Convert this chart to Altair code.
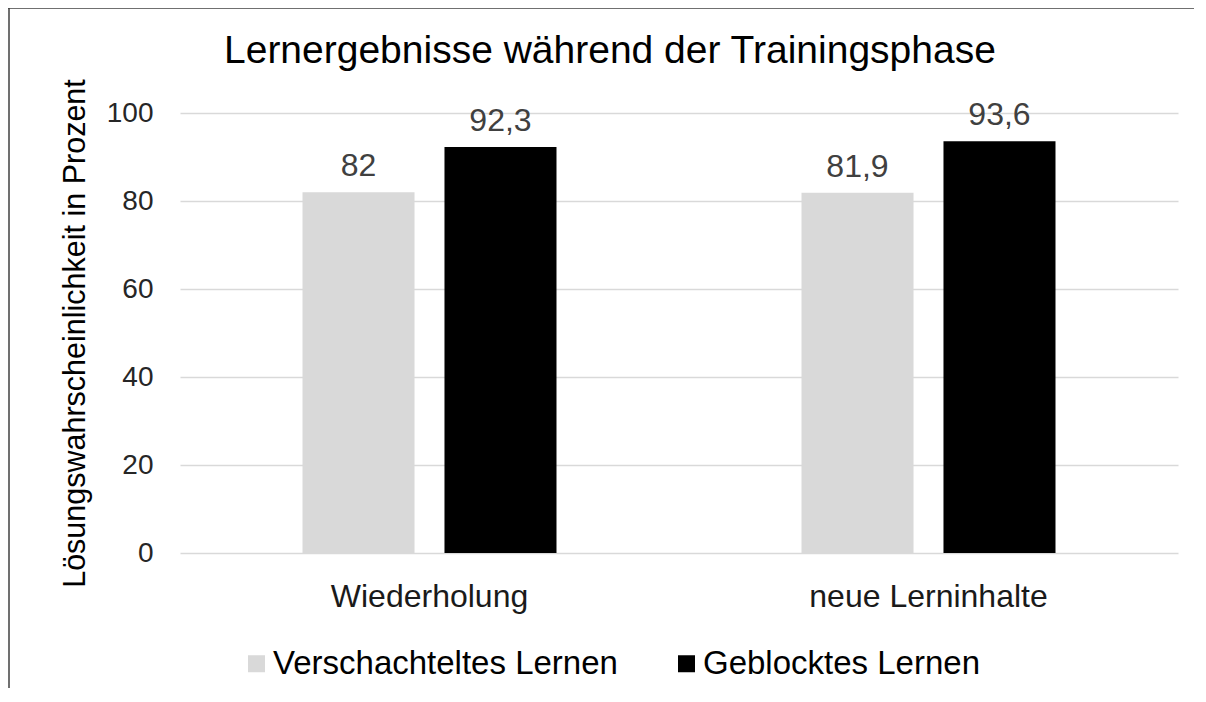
import altair as alt
import pandas as pd

title_text = "Lernergebnisse während der Trainingsphase"
categories = ["Wiederholung", "neue Lerninhalte"]
series = ["Verschachteltes Lernen", "Geblocktes Lernen"]
verschachtelt = [82, 81.9]
geblockt = [92.3, 93.6]
colors = ["#d9d9d9", "#000000"]
y_ticks = [0, 20, 40, 60, 80, 100]

rows = []
for i, cat in enumerate(categories):
    for s, vals in zip(series, [verschachtelt, geblockt]):
        v = vals[i]
        rows.append({"Kategorie": cat, "Reihe": s, "Wert": v,
                     "Label": f"{v:g}".replace(".", ",")})
df = pd.DataFrame(rows)
one = pd.DataFrame({"t": [title_text]})

FONT = "Liberation Sans"

x = alt.X("Kategorie:N", sort=categories,
          scale=alt.Scale(paddingInner=0.491, paddingOuter=0.2455),
          axis=alt.Axis(title=None, labelAngle=0, labelFontSize=32, labelColor="#1a1a1a",
                        labelPadding=28, labelLimit=500, ticks=False, tickSize=0,
                        domain=False, grid=False, labelFont=FONT))
xo = alt.XOffset("Reihe:N", sort=series,
                 scale=alt.Scale(domain=series, paddingInner=0.211, paddingOuter=0))
y = alt.Y("Wert:Q",
          scale=alt.Scale(domain=[0, 100], nice=False),
          axis=alt.Axis(title="Lösungswahrscheinlichkeit in Prozent", values=y_ticks,
                        labelFontSize=28, labelColor="#262626", labelPadding=27,
                        ticks=False, tickSize=0, domain=False, grid=True,
                        gridColor="#d9d9d9", gridWidth=1.5,
                        titleFontSize=30.5, titleFontWeight="normal", titleColor="#000000",
                        titlePadding=16, titleFont=FONT, labelFont=FONT))

bars = alt.Chart(df).mark_bar().encode(
    x=x, xOffset=xo, y=y,
    color=alt.Color("Reihe:N", sort=series,
                    scale=alt.Scale(domain=series, range=colors),
                    legend=alt.Legend(title=None, orient="none", direction="horizontal",
                                      legendX=60, legendY=534, symbolType="square",
                                      symbolSize=289, symbolStrokeWidth=0,
                                      labelFontSize=33, labelColor="#000000",
                                      labelFont=FONT, labelOffset=0, columnPadding=52,
                                      labelLimit=500)),
)

labels = alt.Chart(df).mark_text(baseline="alphabetic", dy=-16, fontSize=32,
                                 color="#404040", font=FONT).encode(
    x=alt.X("Kategorie:N", sort=categories), xOffset=alt.XOffset("Reihe:N", sort=series),
    y="Wert:Q", text="Label:N")

title = alt.Chart(one).mark_text(align="left", baseline="alphabetic",
                                 fontSize=39, color="#000000", font=FONT).encode(
    x=alt.value(44), y=alt.value(-50), text="t:N")

frame_left = alt.Chart(one).mark_rule(color="#404040", strokeWidth=1.5).encode(
    x=alt.value(-171), y=alt.value(-105), y2=alt.value(575))
frame_top = alt.Chart(one).mark_rule(color="#404040", strokeWidth=1.5).encode(
    x=alt.value(-172), x2=alt.value(1014), y=alt.value(-105))

chart = alt.layer(bars, labels, title, frame_left, frame_top).properties(
    width=998, height=440,
    autosize=alt.AutoSizeParams(type="none"),
    padding={"left": 172, "top": 105, "right": 16, "bottom": 135},
).configure(font=FONT).configure_view(strokeWidth=0, stroke="transparent").configure_axisX(
    grid=False, domain=False, ticks=False)

chart.save("out.html", embed_options={"renderer": "svg", "actions": False})
